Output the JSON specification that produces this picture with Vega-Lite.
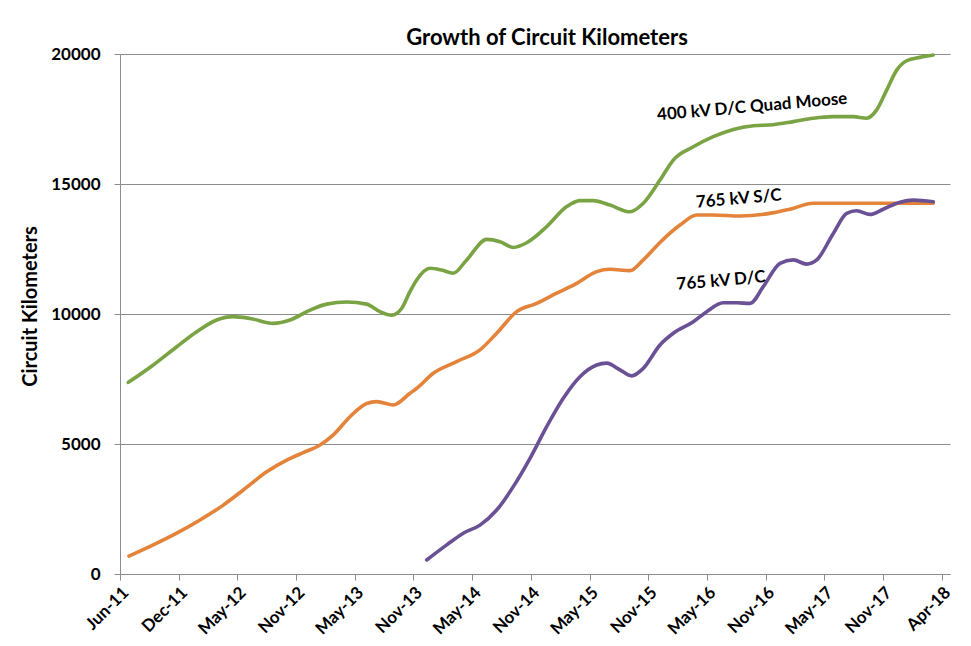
{
  "$schema": "https://vega.github.io/schema/vega-lite/v6.json",
  "autosize": "none",
  "width": 830,
  "height": 520,
  "padding": {"left": 120, "top": 54, "right": 21, "bottom": 72},
  "background": "white",
  "title": {
    "text": "Growth of Circuit Kilometers",
    "font": "Lato",
    "fontSize": 22,
    "fontWeight": "bold",
    "color": "black",
    "anchor": "middle",
    "dx": 12,
    "offset": -5
  },
  "datasets": {
    "lines": [
      {"series": "400 kV D/C Quad Moose", "t": 0.141, "km": 7370},
      {"series": "400 kV D/C Quad Moose", "t": 0.567, "km": 8040},
      {"series": "400 kV D/C Quad Moose", "t": 0.966, "km": 8740},
      {"series": "400 kV D/C Quad Moose", "t": 1.307, "km": 9320},
      {"series": "400 kV D/C Quad Moose", "t": 1.647, "km": 9770},
      {"series": "400 kV D/C Quad Moose", "t": 1.930, "km": 9900},
      {"series": "400 kV D/C Quad Moose", "t": 2.215, "km": 9830},
      {"series": "400 kV D/C Quad Moose", "t": 2.612, "km": 9640},
      {"series": "400 kV D/C Quad Moose", "t": 2.896, "km": 9770},
      {"series": "400 kV D/C Quad Moose", "t": 3.237, "km": 10150},
      {"series": "400 kV D/C Quad Moose", "t": 3.521, "km": 10380},
      {"series": "400 kV D/C Quad Moose", "t": 3.862, "km": 10460},
      {"series": "400 kV D/C Quad Moose", "t": 4.203, "km": 10380},
      {"series": "400 kV D/C Quad Moose", "t": 4.429, "km": 10090},
      {"series": "400 kV D/C Quad Moose", "t": 4.629, "km": 9955},
      {"series": "400 kV D/C Quad Moose", "t": 4.800, "km": 10220},
      {"series": "400 kV D/C Quad Moose", "t": 4.940, "km": 10860},
      {"series": "400 kV D/C Quad Moose", "t": 5.054, "km": 11310},
      {"series": "400 kV D/C Quad Moose", "t": 5.281, "km": 11760},
      {"series": "400 kV D/C Quad Moose", "t": 5.480, "km": 11690},
      {"series": "400 kV D/C Quad Moose", "t": 5.678, "km": 11570},
      {"series": "400 kV D/C Quad Moose", "t": 5.906, "km": 12080},
      {"series": "400 kV D/C Quad Moose", "t": 6.247, "km": 12870},
      {"series": "400 kV D/C Quad Moose", "t": 6.474, "km": 12780},
      {"series": "400 kV D/C Quad Moose", "t": 6.700, "km": 12560},
      {"series": "400 kV D/C Quad Moose", "t": 6.928, "km": 12740},
      {"series": "400 kV D/C Quad Moose", "t": 7.269, "km": 13360},
      {"series": "400 kV D/C Quad Moose", "t": 7.610, "km": 14130},
      {"series": "400 kV D/C Quad Moose", "t": 7.836, "km": 14360},
      {"series": "400 kV D/C Quad Moose", "t": 8.063, "km": 14360},
      {"series": "400 kV D/C Quad Moose", "t": 8.348, "km": 14190},
      {"series": "400 kV D/C Quad Moose", "t": 8.688, "km": 13930},
      {"series": "400 kV D/C Quad Moose", "t": 8.915, "km": 14260},
      {"series": "400 kV D/C Quad Moose", "t": 9.199, "km": 15150},
      {"series": "400 kV D/C Quad Moose", "t": 9.426, "km": 15920},
      {"series": "400 kV D/C Quad Moose", "t": 9.767, "km": 16430},
      {"series": "400 kV D/C Quad Moose", "t": 10.107, "km": 16820},
      {"series": "400 kV D/C Quad Moose", "t": 10.448, "km": 17100},
      {"series": "400 kV D/C Quad Moose", "t": 10.789, "km": 17240},
      {"series": "400 kV D/C Quad Moose", "t": 11.129, "km": 17280},
      {"series": "400 kV D/C Quad Moose", "t": 11.470, "km": 17400},
      {"series": "400 kV D/C Quad Moose", "t": 11.811, "km": 17530},
      {"series": "400 kV D/C Quad Moose", "t": 12.152, "km": 17590},
      {"series": "400 kV D/C Quad Moose", "t": 12.492, "km": 17590},
      {"series": "400 kV D/C Quad Moose", "t": 12.720, "km": 17530},
      {"series": "400 kV D/C Quad Moose", "t": 12.891, "km": 17850},
      {"series": "400 kV D/C Quad Moose", "t": 13.061, "km": 18610},
      {"series": "400 kV D/C Quad Moose", "t": 13.232, "km": 19380},
      {"series": "400 kV D/C Quad Moose", "t": 13.402, "km": 19740},
      {"series": "400 kV D/C Quad Moose", "t": 13.629, "km": 19870},
      {"series": "400 kV D/C Quad Moose", "t": 13.855, "km": 19960},

      {"series": "765 kV S/C", "t": 0.153, "km": 690},
      {"series": "765 kV S/C", "t": 0.567, "km": 1120},
      {"series": "765 kV S/C", "t": 0.966, "km": 1570},
      {"series": "765 kV S/C", "t": 1.363, "km": 2080},
      {"series": "765 kV S/C", "t": 1.760, "km": 2650},
      {"series": "765 kV S/C", "t": 2.100, "km": 3230},
      {"series": "765 kV S/C", "t": 2.499, "km": 3930},
      {"series": "765 kV S/C", "t": 2.840, "km": 4380},
      {"series": "765 kV S/C", "t": 3.123, "km": 4670},
      {"series": "765 kV S/C", "t": 3.407, "km": 4960},
      {"series": "765 kV S/C", "t": 3.634, "km": 5350},
      {"series": "765 kV S/C", "t": 3.918, "km": 6050},
      {"series": "765 kV S/C", "t": 4.203, "km": 6560},
      {"series": "765 kV S/C", "t": 4.373, "km": 6630},
      {"series": "765 kV S/C", "t": 4.656, "km": 6500},
      {"series": "765 kV S/C", "t": 4.940, "km": 6950},
      {"series": "765 kV S/C", "t": 5.054, "km": 7140},
      {"series": "765 kV S/C", "t": 5.337, "km": 7720},
      {"series": "765 kV S/C", "t": 5.736, "km": 8170},
      {"series": "765 kV S/C", "t": 6.133, "km": 8620},
      {"series": "765 kV S/C", "t": 6.417, "km": 9260},
      {"series": "765 kV S/C", "t": 6.758, "km": 10090},
      {"series": "765 kV S/C", "t": 7.099, "km": 10410},
      {"series": "765 kV S/C", "t": 7.439, "km": 10800},
      {"series": "765 kV S/C", "t": 7.780, "km": 11180},
      {"series": "765 kV S/C", "t": 8.121, "km": 11630},
      {"series": "765 kV S/C", "t": 8.348, "km": 11720},
      {"series": "765 kV S/C", "t": 8.688, "km": 11670},
      {"series": "765 kV S/C", "t": 8.915, "km": 12080},
      {"series": "765 kV S/C", "t": 9.199, "km": 12750},
      {"series": "765 kV S/C", "t": 9.540, "km": 13420},
      {"series": "765 kV S/C", "t": 9.825, "km": 13810},
      {"series": "765 kV S/C", "t": 10.107, "km": 13810},
      {"series": "765 kV S/C", "t": 10.562, "km": 13770},
      {"series": "765 kV S/C", "t": 11.017, "km": 13850},
      {"series": "765 kV S/C", "t": 11.414, "km": 14030},
      {"series": "765 kV S/C", "t": 11.811, "km": 14260},
      {"series": "765 kV S/C", "t": 12.266, "km": 14260},
      {"series": "765 kV S/C", "t": 12.833, "km": 14260},
      {"series": "765 kV S/C", "t": 13.402, "km": 14260},
      {"series": "765 kV S/C", "t": 13.855, "km": 14260},

      {"series": "765 kV D/C", "t": 5.225, "km": 540},
      {"series": "765 kV D/C", "t": 5.566, "km": 1120},
      {"series": "765 kV D/C", "t": 5.848, "km": 1570},
      {"series": "765 kV D/C", "t": 6.133, "km": 1880},
      {"series": "765 kV D/C", "t": 6.417, "km": 2460},
      {"series": "765 kV D/C", "t": 6.700, "km": 3360},
      {"series": "765 kV D/C", "t": 6.985, "km": 4450},
      {"series": "765 kV D/C", "t": 7.269, "km": 5670},
      {"series": "765 kV D/C", "t": 7.552, "km": 6760},
      {"series": "765 kV D/C", "t": 7.836, "km": 7590},
      {"series": "765 kV D/C", "t": 8.121, "km": 8040},
      {"series": "765 kV D/C", "t": 8.291, "km": 8110},
      {"series": "765 kV D/C", "t": 8.518, "km": 7850},
      {"series": "765 kV D/C", "t": 8.717, "km": 7620},
      {"series": "765 kV D/C", "t": 8.915, "km": 7910},
      {"series": "765 kV D/C", "t": 9.199, "km": 8810},
      {"series": "765 kV D/C", "t": 9.426, "km": 9260},
      {"series": "765 kV D/C", "t": 9.767, "km": 9700},
      {"series": "765 kV D/C", "t": 9.995, "km": 10090},
      {"series": "765 kV D/C", "t": 10.278, "km": 10430},
      {"series": "765 kV D/C", "t": 10.506, "km": 10430},
      {"series": "765 kV D/C", "t": 10.733, "km": 10410},
      {"series": "765 kV D/C", "t": 10.959, "km": 11050},
      {"series": "765 kV D/C", "t": 11.244, "km": 11950},
      {"series": "765 kV D/C", "t": 11.470, "km": 12080},
      {"series": "765 kV D/C", "t": 11.698, "km": 11920},
      {"series": "765 kV D/C", "t": 11.869, "km": 12080},
      {"series": "765 kV D/C", "t": 12.152, "km": 13100},
      {"series": "765 kV D/C", "t": 12.380, "km": 13870},
      {"series": "765 kV D/C", "t": 12.550, "km": 13970},
      {"series": "765 kV D/C", "t": 12.777, "km": 13830},
      {"series": "765 kV D/C", "t": 13.003, "km": 14030},
      {"series": "765 kV D/C", "t": 13.288, "km": 14300},
      {"series": "765 kV D/C", "t": 13.515, "km": 14380},
      {"series": "765 kV D/C", "t": 13.855, "km": 14320}
    ],
    "labels": [
      {"label": "400 kV D/C Quad Moose", "t": 10.77, "km": 17960},
      {"label": "765 kV S/C", "t": 10.54, "km": 14420},
      {"label": "765 kV D/C", "t": 10.24, "km": 11270}
    ]
  },
  "layer": [
    {
      "data": {"name": "lines"},
      "mark": {"type": "line", "interpolate": "monotone", "strokeWidth": 3.6, "strokeCap": "round"},
      "encoding": {
        "x": {
          "field": "t",
          "type": "quantitative",
          "scale": {"domain": [0, 14.14], "nice": false, "zero": false},
          "axis": {
            "values": [0, 1, 2, 3, 4, 5, 6, 7, 8, 9, 10, 11, 12, 13, 14],
            "labelExpr": "['Jun-11','Dec-11','May-12','Nov-12','May-13','Nov-13','May-14','Nov-14','May-15','Nov-15','May-16','Nov-16','May-17','Nov-17','Apr-18'][datum.value]",
            "title": null,
            "grid": false,
            "labelAngle": -45,
            "labelAlign": "right",
            "labelBaseline": "top",
            "labelPadding": 4,
            "labelFont": "Lato",
            "labelFontSize": 17,
            "labelFontWeight": "bold",
            "labelColor": "black",
            "tickSize": 6,
            "tickColor": "#8c8c8c",
            "domainColor": "#8c8c8c",
            "labelOverlap": false,
            "labelBound": false,
            "labelFlush": false
          }
        },
        "y": {
          "field": "km",
          "type": "quantitative",
          "scale": {"domain": [0, 20000], "nice": false},
          "axis": {
            "values": [0, 5000, 10000, 15000, 20000],
            "format": "d",
            "title": "Circuit Kilometers",
            "titleFont": "Lato",
            "titleFontSize": 20,
            "titleFontWeight": "bold",
            "titleColor": "black",
            "titleAngle": -90,
            "titleX": -90,
            "titleY": 252,
            "titleAlign": "center",
            "titleBaseline": "middle",
            "grid": true,
            "gridColor": "#8c8c8c",
            "gridWidth": 1,
            "labelFont": "Lato",
            "labelFontSize": 17,
            "labelFontWeight": "bold",
            "labelColor": "black",
            "labelPadding": 14,
            "tickSize": 6,
            "tickColor": "#8c8c8c",
            "domainColor": "#8c8c8c"
          }
        },
        "color": {
          "field": "series",
          "type": "nominal",
          "scale": {
            "domain": ["400 kV D/C Quad Moose", "765 kV S/C", "765 kV D/C"],
            "range": ["#7aa344", "#e4833a", "#6a5094"]
          },
          "legend": null
        },
        "detail": {"field": "series"}
      }
    },
    {
      "data": {"name": "labels"},
      "mark": {"type": "text", "font": "Lato", "fontSize": 17, "fontWeight": "bold", "color": "black", "angle": -5, "align": "center", "baseline": "middle"},
      "encoding": {
        "x": {"field": "t", "type": "quantitative"},
        "y": {"field": "km", "type": "quantitative"},
        "text": {"field": "label"}
      }
    }
  ],
  "config": {
    "view": {"stroke": null}
  }
}
